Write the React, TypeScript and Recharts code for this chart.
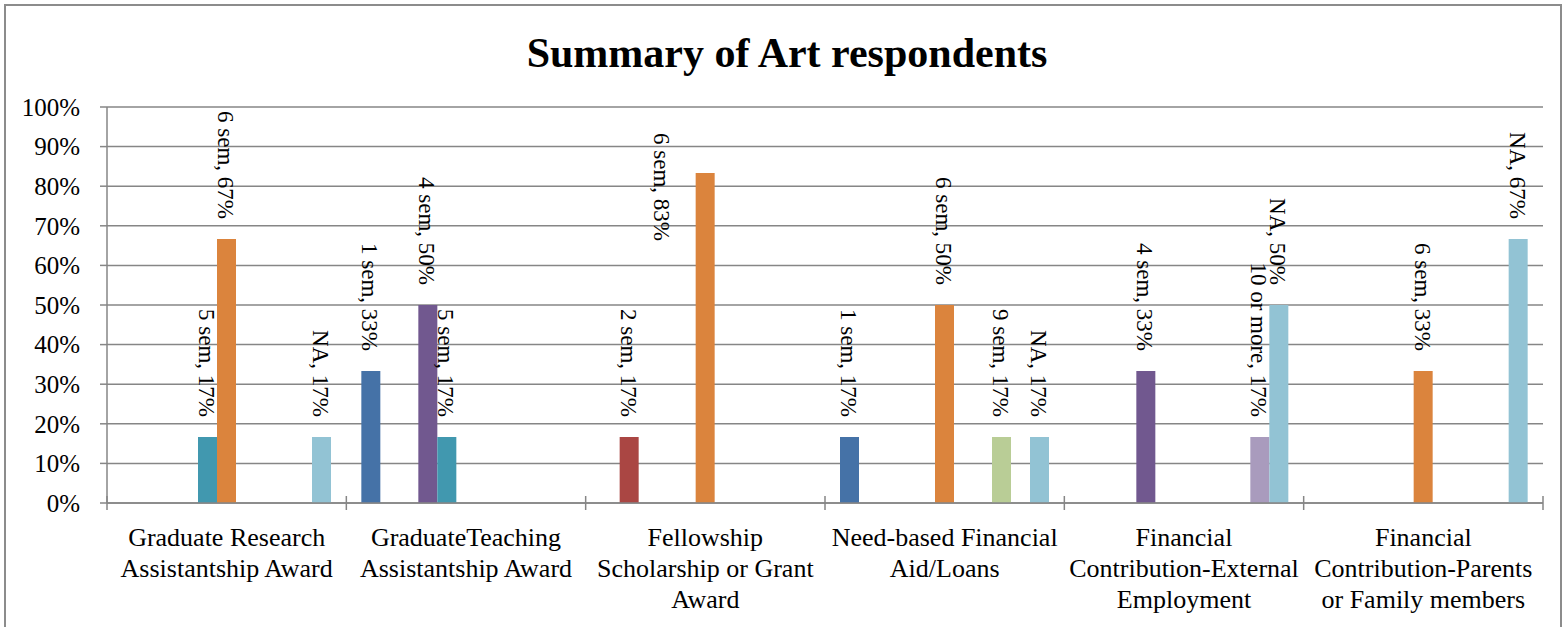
import React from 'react';
import { BarChart, Bar, XAxis, YAxis, CartesianGrid, LabelList } from 'recharts';

const categories = [
  'Graduate Research Assistantship Award',
  'GraduateTeaching Assistantship Award',
  'Fellowship Scholarship or Grant Award',
  'Need-based Financial Aid/Loans',
  'Financial Contribution-External Employment',
  'Financial Contribution-Parents or Family members',
];
const categoryTickLines = [
  ['Graduate Research', 'Assistantship Award'],
  ['GraduateTeaching', 'Assistantship Award'],
  ['Fellowship', 'Scholarship or Grant', 'Award'],
  ['Need-based Financial', 'Aid/Loans'],
  ['Financial', 'Contribution-External', 'Employment'],
  ['Financial', 'Contribution-Parents', 'or Family members'],
];
const seriesNames = ['1 sem', '2 sem', '3 sem', '4 sem', '5 sem', '6 sem', '7 sem', '8 sem', '9 sem', '10 or more', 'NA'];
const sem1 = [null, 33.33, null, 16.67, null, null];
const sem2 = [null, null, 16.67, null, null, null];
const sem3 = [null, null, null, null, null, null];
const sem4 = [null, 50, null, null, 33.33, null];
const sem5 = [16.67, 16.67, null, null, null, null];
const sem6 = [66.67, null, 83.33, 50, null, 33.33];
const sem7 = [null, null, null, null, null, null];
const sem8 = [null, null, null, null, null, null];
const sem9 = [null, null, null, 16.67, null, null];
const sem10plus = [null, null, null, null, 16.67, null];
const semNA = [16.67, null, null, 16.67, 50, 66.67];
const seriesValues = [sem1, sem2, sem3, sem4, sem5, sem6, sem7, sem8, sem9, sem10plus, semNA];
const yTicks = [0, 10, 20, 30, 40, 50, 60, 70, 80, 90, 100];

const colors = ['#4572A7', '#AA4643', '#89A54E', '#71588F', '#4198AF', '#DB843D', '#93A9CF', '#D19392', '#B9CD96', '#A99BBD', '#92C3D4'];

const rows = categories.map((name, ci) => {
  const row: any = { name };
  seriesValues.forEach((vals, si) => {
    row[`s${si}`] = vals[ci];
  });
  return row;
});

const FONT = '"Liberation Serif", "Times New Roman", serif';
const GRID = '#868686';
const GRID_W = 1.5;
const CHART_W = 1567;
const CHART_H = 627;
const MARGIN = { top: 107, right: 24, bottom: 0, left: 0 };
const Y_AXIS_W = 107;
const PLOT_TOP = MARGIN.top;
const BAND_W = (CHART_W - MARGIN.left - MARGIN.right - Y_AXIS_W) / categories.length;

const renderLabel = (props: any, name: string) => {
  const { value } = props;
  if (value == null) return null;
  const vb = props.viewBox || {};
  const x = props.x ?? vb.x;
  const y = props.y ?? vb.y;
  const w = props.width ?? vb.width;
  const cx = x + w / 2 - 1;
  const text = `${name}, ${Math.round(value)}%`;
  let ax = cx;
  let ay = y - 20;
  let anchor = 'end';
  if (y - PLOT_TOP < 100) {
    ax = cx - 43;
    ay = PLOT_TOP + 26;
    anchor = 'start';
  }
  return (
    <text
      x={ax}
      y={ay}
      transform={`rotate(90 ${ax} ${ay})`}
      textAnchor={anchor}
      dominantBaseline="central"
      fontSize={23}
      fontFamily={FONT}
      fill="#000"
    >
      {text}
    </text>
  );
};

const renderXTick = (props: any) => {
  const { x, y, payload, index } = props;
  const idx = index ?? categories.indexOf(payload.value);
  const lines = categoryTickLines[idx] || [];
  const left = x - BAND_W / 2;
  const right = x + BAND_W / 2;
  return (
    <g>
      <line x1={left} x2={left} y1={y - 7} y2={y + 7} stroke={GRID} strokeWidth={GRID_W} />
      {idx === categories.length - 1 && (
        <line x1={right} x2={right} y1={y - 7} y2={y + 7} stroke={GRID} strokeWidth={GRID_W} />
      )}
      <text x={x} y={y + 43} textAnchor="middle" fontSize={26} fontFamily={FONT} fill="#000">
        {lines.map((l, i) => (
          <tspan key={i} x={x} dy={i === 0 ? 0 : 31}>
            {l}
          </tspan>
        ))}
      </text>
    </g>
  );
};

export default function App() {
  return (
    <div style={{ position: 'absolute', left: 0, top: 0, width: CHART_W, height: CHART_H, background: '#fff', overflow: 'hidden' }}>
      <BarChart
        width={CHART_W}
        height={CHART_H}
        data={rows}
        margin={MARGIN}
        barGap={0}
        barCategoryGap={0}
      >
        <CartesianGrid vertical={false} stroke={GRID} strokeWidth={GRID_W} />
        <XAxis
          dataKey="name"
          interval={0}
          tick={renderXTick}
          tickLine={false}
          tickSize={0}
          tickMargin={0}
          axisLine={{ stroke: GRID, strokeWidth: GRID_W }}
          height={124}
        />
        <YAxis
          domain={[0, 100]}
          ticks={yTicks}
          interval={0}
          tickFormatter={(v: number) => `${v}%`}
          width={Y_AXIS_W}
          tickSize={7}
          tickMargin={20}
          tick={{ fontSize: 25, fill: '#000', fontFamily: FONT }}
          axisLine={{ stroke: GRID, strokeWidth: GRID_W }}
          tickLine={{ stroke: GRID, strokeWidth: GRID_W }}
        />
        {seriesNames.map((n, i) => (
          <Bar key={n} dataKey={`s${i}`} name={n} fill={colors[i]} barSize={19} isAnimationActive={false}>
            <LabelList dataKey={`s${i}`} content={(p: any) => renderLabel(p, n)} />
          </Bar>
        ))}
      </BarChart>
      <svg width={CHART_W} height={CHART_H} style={{ position: 'absolute', left: 0, top: 0, pointerEvents: 'none' }}>
        <rect x={5} y={5} width={1556} height={640} fill="none" stroke="#8c8c8c" strokeWidth={2} />
        <text x={787} y={67} textAnchor="middle" fontSize={42} fontWeight="bold" fontFamily={FONT} fill="#000">
          Summary of Art respondents
        </text>
      </svg>
    </div>
  );
}
